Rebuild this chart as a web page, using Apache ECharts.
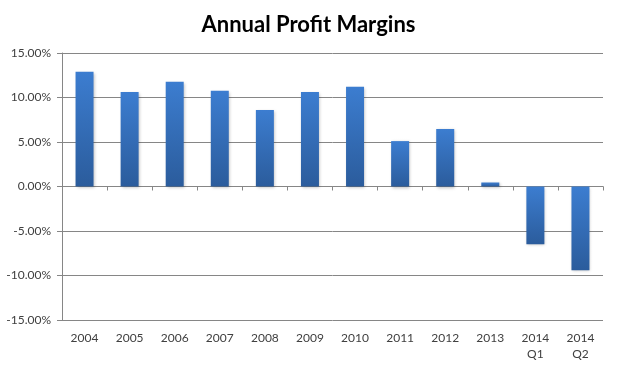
<!DOCTYPE html>
<html><head><meta charset="utf-8">
<script src="https://cdn.jsdelivr.net/npm/echarts@6/dist/echarts.min.js"></script>
<style>html,body{margin:0;padding:0;background:#fff}#c{width:617px;height:368px}</style>
</head><body><div id="c"></div>
<script>
var categories = ['2004','2005','2006','2007','2008','2009','2010','2011','2012','2013','2014\nQ1','2014\nQ2'];
var margins = [12.9, 10.63, 11.76, 10.75, 8.6, 10.63, 11.2, 5.1, 6.45, 0.45, -6.5, -9.4];
var yTicks = {min: -15, max: 15, interval: 5};
var titleText = 'Annual Profit Margins';

var chart = echarts.init(document.getElementById('c'));
var font = 'Lato, "Open Sans", sans-serif';
chart.setOption({
  animation: false,
  backgroundColor: '#fff',
  title: {text: titleText, left: 'center', top: 9,
    textStyle: {fontFamily: font, fontWeight: 'bold', fontSize: 22, color: '#000'}},
  grid: {left: 62, right: 14, top: 53, bottom: 48},
  xAxis: [{
    type: 'category', data: categories,
    axisLine: {onZero: true, lineStyle: {color: '#868686', width: 1}},
    axisTick: {show: true, length: 4, lineStyle: {color: '#868686'}},
    axisLabel: {show: false}
  }, {
    type: 'category', data: categories, position: 'bottom',
    axisLine: {show: false}, axisTick: {show: false},
    axisLabel: {fontFamily: font, fontSize: 12, color: '#404040', margin: 10, lineHeight: 16}
  }],
  yAxis: {
    type: 'value', min: yTicks.min, max: yTicks.max, interval: yTicks.interval,
    axisLine: {show: true, lineStyle: {color: '#868686'}},
    axisTick: {show: true, length: 5, lineStyle: {color: '#868686'}},
    splitLine: {lineStyle: {color: '#868686', width: 1}},
    axisLabel: {fontFamily: font, fontSize: 12, color: '#404040', margin: 11,
      formatter: function (v) { return v.toFixed(2) + '%'; }}
  },
  series: [{
    type: 'bar', data: margins, xAxisIndex: 0, barWidth: 18,
    itemStyle: {
      color: new echarts.graphic.LinearGradient(0, 0, 0, 1, [
        {offset: 0, color: '#3c7dd0'}, {offset: 1, color: '#2b5c9c'}]),
      shadowColor: 'rgba(0,0,0,0.25)', shadowBlur: 3, shadowOffsetX: 1, shadowOffsetY: 1
    }
  }]
});
</script></body></html>
